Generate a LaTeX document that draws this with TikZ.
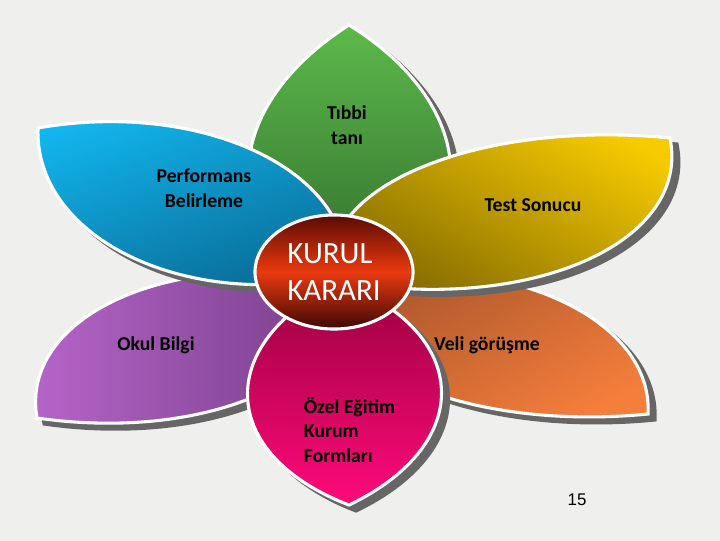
\documentclass[tikz,border=0pt]{standalone}
\usepackage{fontspec}
\setmainfont{Carlito}
\newfontfamily\pagenumfont{Liberation Sans}
\usetikzlibrary{calc,shapes.geometric}

\definecolor{bg_light}{HTML}{EFEFED}
\definecolor{bg_edge}{HTML}{DDDBC7}
\definecolor{green_light}{HTML}{5DB94B}
\definecolor{green_dark}{HTML}{2F6B2C}
\definecolor{blue_light}{HTML}{12B6EE}
\definecolor{blue_dark}{HTML}{086690}
\definecolor{yellow_light}{HTML}{F7CB00}
\definecolor{yellow_dark}{HTML}{7A6300}
\definecolor{orange_light}{HTML}{F67E3B}
\definecolor{orange_dark}{HTML}{A3532B}
\definecolor{pink_light}{HTML}{FF0A7A}
\definecolor{pink_dark}{HTML}{9B0040}
\definecolor{purple_light}{HTML}{B866CB}
\definecolor{purple_dark}{HTML}{733C86}
\definecolor{red_top}{HTML}{5A0A04}
\definecolor{red_mid}{HTML}{EA3A0F}
\definecolor{red_bottom}{HTML}{3C0804}

\pgfdeclareradialshading{slide_bg}{\pgfpoint{0bp}{0bp}}{color(0bp)=(bg_light); color(38bp)=(bg_light); color(70bp)=(bg_edge)}

\tikzset{
  leaf/.style={draw=white, line width=2.2pt},
  leaf_shadow/.style={fill=black!60, draw=black!60, line width=2.2pt, transform canvas={shift={(7,6)}}},
  leaf_text/.style={text=black, font=\bfseries\fontsize{14}{17.5}\selectfont, align=center},
  center_disc/.style={ellipse, draw=white, line width=2.2pt, minimum width=3.95cm, minimum height=2.85cm, inner sep=0pt,
    top color=red_top, bottom color=red_bottom, middle color=red_mid, text=white, align=left, font=\fontsize{22}{26.5}\selectfont}
}

% outer tip, inner tip, width and shift of the left side, width and shift of the right side, shading
\newcommand{\petal}[7]{%
  \pgfmathsetmacro\ha{#3/0.75*0.025}%
  \pgfmathsetmacro\hb{#5/0.75*0.025}%
  \pgfmathsetmacro\ta{0.25+#4}\pgfmathsetmacro\tb{0.75+#4}%
  \pgfmathsetmacro\tc{0.75+#6}\pgfmathsetmacro\td{0.25+#6}%
  \def\leafpath{(#1) .. controls ($(#1)!\ta!(#2)!\ha cm!90:(#2)$) and ($(#1)!\tb!(#2)!\ha cm!90:(#2)$) .. (#2)
    .. controls ($(#1)!\tc!(#2)!\hb cm!-90:(#2)$) and ($(#1)!\td!(#2)!\hb cm!-90:(#2)$) .. (#1) -- cycle}%
  \path[leaf_shadow] \leafpath;
  \path[leaf, #7] \leafpath;
}

\begin{document}
\begin{tikzpicture}[x=0.025cm, y=-0.025cm]
    \useasboundingbox (0,0) rectangle (720,540);
    \shade[shading=slide_bg] (0,0) rectangle (720,540);

    \coordinate (green_out) at (349,25);
    \coordinate (green_in) at (352,290);
    \coordinate (purple_out) at (37,418);
    \coordinate (purple_in) at (335,280);
    \coordinate (orange_out) at (648,414);
    \coordinate (orange_in) at (335,280);
    \coordinate (yellow_out) at (670,138);
    \coordinate (yellow_in) at (335,280);
    \coordinate (blue_out) at (38,128);
    \coordinate (blue_in) at (345,275);
    \coordinate (pink_out) at (349,505);
    \coordinate (pink_in) at (340,282);

    \petal{green_out}{green_in}{100}{0.07}{102}{0.07}{top color=green_light, bottom color=green_dark}
    \petal{purple_out}{purple_in}{74}{-0.17}{72}{0.2}{left color=purple_light, right color=purple_dark}
    \petal{orange_out}{orange_in}{66}{0.22}{70}{-0.15}{top color=orange_dark, bottom color=orange_light, shading angle=30}
    \petal{yellow_out}{yellow_in}{80}{-0.19}{70}{0.22}{top color=yellow_light, bottom color=yellow_dark, shading angle=-30}
    \petal{blue_out}{blue_in}{73}{0.15}{76}{-0.12}{top color=blue_light, bottom color=blue_dark, shading angle=20}
    \petal{pink_out}{pink_in}{97}{0}{97}{0}{top color=pink_dark, bottom color=pink_light}

    \node[center_disc] (kurul) at (334,272) {KURUL\\KARARI};

    \node[leaf_text] (tibbi) at (347,125) {Tıbbi\\tanı};
    \node[leaf_text] (performans) at (204,188) {Performans\\Belirleme};
    \node[leaf_text] (test) at (533,205) {Test Sonucu};
    \node[leaf_text] (okul) at (156,345) {Okul Bilgi};
    \node[leaf_text] (veli) at (487,345) {Veli görüşme};
    \node[leaf_text, align=left, anchor=west] (ozel) at (299,430) {Özel Eğitim\\Kurum\\Formları};
    \node[font=\pagenumfont\fontsize{12}{14}\selectfont] (page) at (577,500) {15};
\end{tikzpicture}
\end{document}
